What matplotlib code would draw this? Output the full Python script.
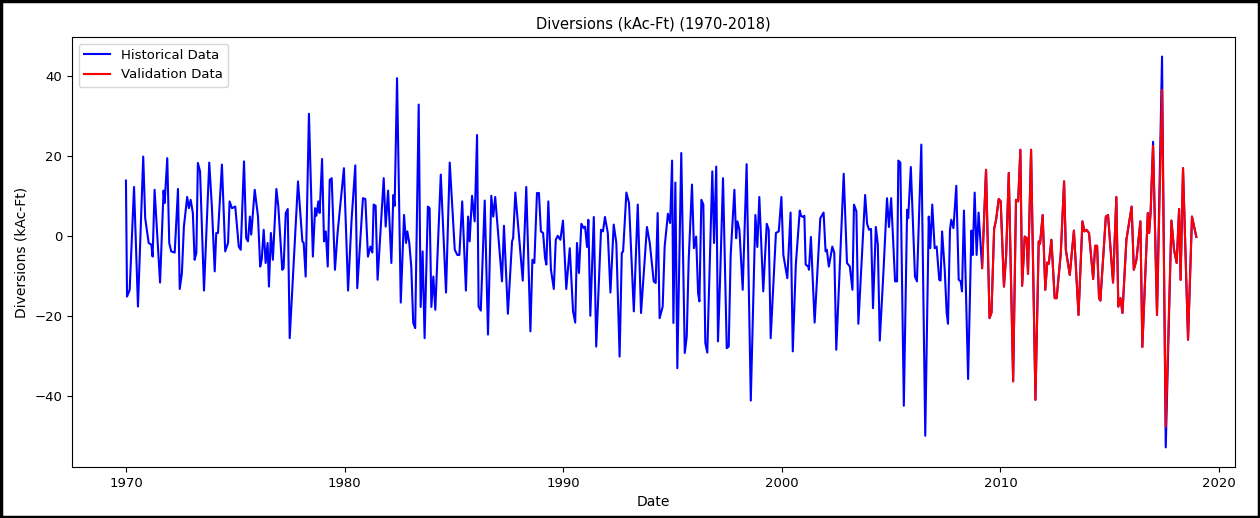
import matplotlib
matplotlib.use('Agg')
import matplotlib.pyplot as plt
from matplotlib.patches import Rectangle

# historical series (decimal year, kAc-Ft)
hist_years = [
    1970.00, 1970.05, 1970.17, 1970.37, 1970.55, 1970.79, 1970.88, 1971.04, 1971.16, 1971.22,
    1971.31, 1971.56, 1971.72, 1971.77, 1971.89, 1971.98, 1972.07, 1972.23, 1972.38, 1972.46,
    1972.56, 1972.65, 1972.80, 1972.88, 1972.96, 1973.06, 1973.14, 1973.22, 1973.29, 1973.39,
    1973.57, 1973.81, 1973.93, 1974.06, 1974.13, 1974.21, 1974.39, 1974.54, 1974.67, 1974.74,
    1974.85, 1975.00, 1975.16, 1975.25, 1975.40, 1975.50, 1975.58, 1975.67, 1975.73, 1975.89,
    1976.04, 1976.14, 1976.21, 1976.30, 1976.39, 1976.48, 1976.54, 1976.63, 1976.72, 1976.88,
    1976.97, 1977.15, 1977.21, 1977.31, 1977.40, 1977.49, 1977.87, 1978.07, 1978.13, 1978.22,
    1978.37, 1978.55, 1978.65, 1978.71, 1978.80, 1978.86, 1978.97, 1979.06, 1979.14, 1979.23,
    1979.32, 1979.41, 1979.56, 1979.68, 1979.97, 1980.16, 1980.32, 1980.49, 1980.58, 1980.84,
    1980.95, 1981.07, 1981.18, 1981.27, 1981.33, 1981.42, 1981.51, 1981.79, 1981.88, 1981.99,
    1982.14, 1982.23, 1982.29, 1982.40, 1982.57, 1982.72, 1982.81, 1982.87, 1982.96, 1983.05,
    1983.14, 1983.23, 1983.39, 1983.48, 1983.57, 1983.66, 1983.81, 1983.89, 1983.97, 1984.06,
    1984.15, 1984.40, 1984.64, 1984.81, 1985.04, 1985.16, 1985.25, 1985.38, 1985.55, 1985.65,
    1985.72, 1985.83, 1985.95, 1986.06, 1986.13, 1986.23, 1986.41, 1986.56, 1986.71, 1986.80,
    1986.89, 1987.20, 1987.29, 1987.47, 1987.66, 1987.71, 1987.81, 1988.15, 1988.31, 1988.50,
    1988.59, 1988.68, 1988.80, 1988.89, 1988.98, 1989.08, 1989.17, 1989.23, 1989.32, 1989.44,
    1989.57, 1989.66, 1989.75, 1989.87, 1989.99, 1990.14, 1990.30, 1990.45, 1990.55, 1990.63,
    1990.72, 1990.83, 1990.94, 1991.00, 1991.09, 1991.15, 1991.24, 1991.40, 1991.51, 1991.73,
    1991.82, 1991.91, 1992.04, 1992.16, 1992.31, 1992.43, 1992.58, 1992.68, 1992.74, 1992.89,
    1993.01, 1993.23, 1993.41, 1993.56, 1993.83, 1993.96, 1994.14, 1994.23, 1994.32, 1994.41,
    1994.55, 1994.64, 1994.79, 1994.89, 1994.98, 1995.04, 1995.13, 1995.22, 1995.40, 1995.56,
    1995.65, 1995.74, 1995.89, 1995.98, 1996.08, 1996.17, 1996.23, 1996.32, 1996.41, 1996.50,
    1996.59, 1996.82, 1996.90, 1997.00, 1997.08, 1997.17, 1997.31, 1997.48, 1997.57, 1997.66,
    1997.83, 1997.91, 1997.97, 1998.06, 1998.21, 1998.39, 1998.58, 1998.79, 1998.88, 1998.97,
    1999.15, 1999.31, 1999.40, 1999.49, 1999.73, 1999.86, 1999.98, 2000.07, 2000.25, 2000.40,
    2000.50, 2000.64, 2000.82, 2000.88, 2000.97, 2001.03, 2001.09, 2001.21, 2001.24, 2001.33,
    2001.50, 2001.76, 2001.91, 2002.00, 2002.06, 2002.15, 2002.31, 2002.40, 2002.49, 2002.83,
    2002.98, 2003.11, 2003.23, 2003.30, 2003.41, 2003.50, 2003.81, 2003.90, 2003.99, 2004.08,
    2004.17, 2004.30, 2004.39, 2004.48, 2004.66, 2004.81, 2004.90, 2005.00, 2005.18, 2005.27,
    2005.33, 2005.42, 2005.58, 2005.73, 2005.78, 2005.90, 2006.09, 2006.18, 2006.38, 2006.56,
    2006.72, 2006.79, 2006.88, 2006.99, 2007.08, 2007.20, 2007.26, 2007.33, 2007.45, 2007.54,
    2007.60, 2007.69, 2007.75, 2007.85, 2007.98, 2008.09, 2008.18, 2008.24, 2008.33, 2008.52,
    2008.67, 2008.73, 2008.82, 2008.91, 2009.00, 2009.16, 2009.34, 2009.50, 2009.59, 2009.71,
    2009.80, 2009.92, 2010.01, 2010.16, 2010.26, 2010.38, 2010.58, 2010.71, 2010.81, 2010.91,
    2010.99, 2011.11, 2011.20, 2011.26, 2011.40, 2011.60, 2011.75, 2011.81, 2011.93, 2012.05,
    2012.14, 2012.21, 2012.33, 2012.48, 2012.57, 2012.76, 2012.91, 2012.99, 2013.17, 2013.36,
    2013.57, 2013.75, 2013.84, 2013.93, 2014.05, 2014.24, 2014.33, 2014.42, 2014.51, 2014.57,
    2014.82, 2014.92, 2015.15, 2015.30, 2015.39, 2015.49, 2015.58, 2015.76, 2016.00, 2016.10,
    2016.22, 2016.40, 2016.49, 2016.74, 2016.80, 2016.87, 2016.98, 2017.16, 2017.39, 2017.56,
    2017.82, 2017.94, 2018.06, 2018.17, 2018.24, 2018.35, 2018.58, 2018.76, 2018.96,
]
hist_values = [
    13.8, -15.2, -13.5, 12.2, -17.7, 19.8, 4.4, -1.8, -2.2, -5.2,
    11.5, -11.7, 11.3, 8.2, 19.4, -1.8, -3.9, -4.2, 11.7, -13.3,
    -9.3, 2.3, 9.7, 6.9, 9.0, 5.7, -6.0, -4.3, 18.2, 16.1,
    -13.7, 18.3, 7.3, -8.9, 0.7, 0.7, 17.8, -3.9, -1.8, 8.6,
    6.9, 7.3, -2.7, -3.5, 18.6, -0.6, -1.4, 4.8, 0.3, 11.5,
    4.8, -7.7, -6.0, 1.5, -6.8, -1.8, -12.7, 0.7, -6.0, 11.7,
    7.3, -8.5, -8.1, 5.7, 6.7, -25.6, 13.6, -1.4, -1.8, -10.2,
    30.5, -5.2, 6.9, 5.0, 8.6, 5.7, 19.2, -1.4, 1.1, -7.7,
    14.0, 14.4, -8.5, 0.7, 16.9, -13.7, 4.0, 17.6, -13.1, 9.4,
    9.2, -5.2, -2.7, -4.2, 7.8, 7.5, -11.0, 14.4, 2.3, 11.3,
    -6.8, 10.2, 7.5, 39.4, -16.7, 5.2, -1.8, 1.1, -1.8, -7.7,
    -21.8, -23.1, 32.8, -17.8, -3.9, -25.6, 7.3, 6.9, -17.8, -10.2,
    -18.5, 15.3, -14.2, 18.3, -3.5, -4.8, -4.8, 8.6, -13.7, 4.8,
    -1.4, 10.0, 3.6, 25.2, -17.7, -18.7, 8.8, -24.7, 10.0, 4.8,
    9.7, -11.4, 2.5, -19.5, -1.4, -0.6, 10.8, -11.2, 12.2, -23.9,
    -6.0, -6.8, 10.7, 10.7, 1.1, 0.7, -5.6, -7.2, 8.6, -8.5,
    -13.3, -1.0, 0.0, -1.0, 3.8, -13.3, -3.1, -18.9, -21.7, -1.8,
    -9.3, 3.0, 1.9, 2.3, -2.8, 4.0, -20.0, 4.7, -27.7, 1.5,
    1.1, 4.7, 0.7, -14.2, 2.8, -1.8, -30.2, -4.3, -3.9, 10.8,
    8.2, -18.9, 7.8, -19.3, 2.2, -1.8, -11.4, -11.8, 5.7, -20.6,
    -17.7, -2.7, 5.5, 3.2, 18.8, -21.8, 13.3, -33.1, 20.7, -29.3,
    -25.2, -6.0, 12.8, -3.1, -0.2, -14.3, -16.4, 9.0, 7.8, -26.8,
    -29.2, 16.1, -1.8, 17.3, -26.4, -11.8, 14.4, -28.1, -27.7, -4.8,
    11.5, -0.6, 3.6, 1.5, -13.5, 17.9, -41.2, 5.2, -2.8, 9.7,
    -13.9, 3.0, 1.5, -25.6, 0.7, 1.1, 9.7, -4.8, -10.6, 5.8,
    -28.9, -7.2, 6.3, 5.0, 4.7, 5.0, -7.2, -7.7, -8.5, -0.3,
    -21.7, 4.4, 5.8, -3.9, -3.5, -7.7, -2.7, -4.3, -28.5, 15.5,
    -6.8, -7.7, -13.5, 7.8, 6.1, -22.0, 10.2, 3.0, 1.5, 1.7,
    -18.1, 2.2, -2.2, -26.2, -7.7, 9.4, 2.2, 9.4, -11.4, -11.4,
    18.8, 18.3, -42.5, 6.5, 4.4, 17.2, -10.2, -11.4, 22.8, -50.0,
    4.8, -3.1, 7.8, -3.1, -2.7, -11.0, -11.2, 1.1, -8.5, -19.3,
    -22.0, 1.5, 4.0, 1.9, 12.5, -11.0, -11.4, -13.9, 6.3, -35.8,
    1.3, -4.8, 10.8, -4.8, 5.8, -8.1, 16.5, -20.6, -19.2, 1.7,
    4.0, 9.2, 8.6, -12.7, -4.8, 15.7, -36.4, 9.0, 8.6, 21.5,
    -12.5, -0.2, -0.6, -9.5, 21.5, -41.0, -1.4, -2.0, 5.2, -13.5,
    -6.7, -7.0, -1.0, -15.6, -15.6, -4.3, 13.6, -3.5, -9.8, 1.3,
    -19.8, 3.6, 1.1, 1.5, 0.7, -10.8, -2.5, -2.5, -15.6, -16.2,
    4.8, 5.2, -11.7, 9.7, -17.7, -15.6, -19.3, -1.0, 7.3, -8.5,
    -6.0, 3.6, -27.8, 5.7, 0.7, 6.1, 23.5, -19.8, 44.8, -52.9,
    3.8, -3.5, -6.8, 6.7, -11.0, 16.9, -26.0, 4.8, -0.3,
]

# validation series (2009 onward)
val_years = [
    2009.16, 2009.34, 2009.50, 2009.59, 2009.71, 2009.80, 2009.92, 2010.01, 2010.16, 2010.26,
    2010.38, 2010.58, 2010.71, 2010.81, 2010.91, 2010.99, 2011.11, 2011.20, 2011.26, 2011.40,
    2011.60, 2011.75, 2011.81, 2011.93, 2012.05, 2012.14, 2012.21, 2012.33, 2012.48, 2012.57,
    2012.76, 2012.91, 2012.99, 2013.17, 2013.36, 2013.57, 2013.75, 2013.84, 2013.93, 2014.05,
    2014.24, 2014.33, 2014.42, 2014.51, 2014.57, 2014.82, 2014.92, 2015.15, 2015.30, 2015.39,
    2015.49, 2015.58, 2015.76, 2016.00, 2016.10, 2016.22, 2016.40, 2016.49, 2016.74, 2016.80,
    2016.87, 2016.98, 2017.16, 2017.39, 2017.56, 2017.82, 2017.94, 2018.06, 2018.17, 2018.24,
    2018.35, 2018.58, 2018.76, 2018.96,
]
val_values = [
    -8.1, 16.5, -20.6, -19.2, 1.7, 4.0, 9.2, 8.6, -12.7, -4.8,
    15.7, -36.4, 9.0, 8.6, 21.5, -12.5, -0.2, -0.6, -9.5, 21.5,
    -41.0, -1.4, -2.0, 5.2, -13.5, -6.7, -7.0, -1.0, -15.6, -15.6,
    -4.3, 13.6, -3.5, -9.8, 1.3, -19.8, 3.6, 1.1, 1.5, 0.7,
    -10.8, -2.5, -2.5, -15.6, -16.2, 4.8, 5.2, -11.7, 9.7, -17.7,
    -15.6, -19.3, -1.0, 7.3, -8.5, -6.0, 3.6, -27.8, 5.7, 0.7,
    6.1, 22.5, -19.8, 36.5, -47.7, 3.8, -3.5, -6.8, 6.7, -11.0,
    16.9, -26.0, 4.8, -0.3,
]

fig = plt.figure(figsize=(12.6, 5.18), dpi=100)
ax = fig.add_axes([0.0571, 0.0985, 0.9231, 0.8301])

ax.plot(hist_years, hist_values, color='blue', label='Historical Data')
ax.plot(val_years, val_values, color='red', label='Validation Data')

ax.set_title('Diversions (kAc-Ft) (1970-2018)', fontsize=10.5)
ax.set_xlabel('Date', fontsize=10)
ax.set_ylabel('Diversions (kAc-Ft)', fontsize=10)
ax.set_xlim(1967.53, 2020.73)
ax.set_ylim(-57.8, 49.7)
ax.set_xticks([1970, 1980, 1990, 2000, 2010, 2020])
ax.set_yticks([-40, -20, 0, 20, 40])
ax.tick_params(labelsize=9.5)
ax.legend(loc='upper left', fontsize=9.5)

# black frame of the screenshot
fig.patches.append(Rectangle((0.001, 0.002), 0.998, 0.996, transform=fig.transFigure,
                             fill=False, edgecolor='black', linewidth=2.5))

fig.savefig('out.png', dpi=100)
